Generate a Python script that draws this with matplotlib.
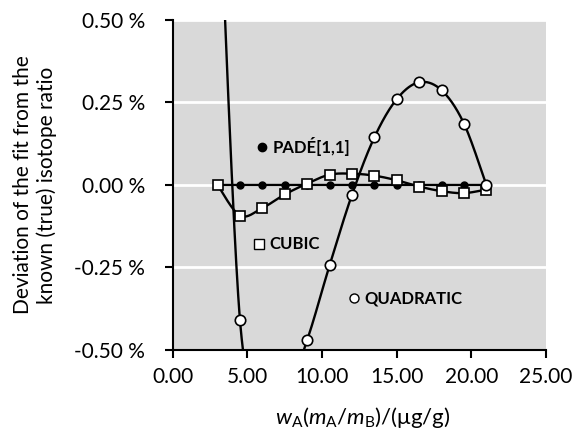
import numpy as np
import matplotlib.pyplot as plt
from matplotlib.ticker import FuncFormatter

plt.rcParams['font.family'] = ['Lato', 'DejaVu Sans']
plt.rcParams['mathtext.fontset'] = 'custom'
plt.rcParams['mathtext.rm'] = 'Lato'
plt.rcParams['mathtext.it'] = 'Lato:italic'

# dados (desvio em %)
x = [3.0, 4.5, 6.0, 7.5, 9.0, 10.5, 12.0, 13.5, 15.0, 16.5, 18.0, 19.5, 21.0]
pade = [0.0, 0.0, 0.0, 0.0, 0.0, 0.0, 0.0, 0.0, 0.0, 0.0, 0.0, 0.0, 0.0]
cubic = [0.0, -0.093, -0.070, -0.029, 0.004, 0.031, 0.034, 0.028, 0.014,
         -0.005, -0.019, -0.025, -0.014]
quadratic = [1.05, -0.41, -0.60, -0.64, -0.47, -0.244, -0.030, 0.144, 0.260,
             0.311, 0.287, 0.186, 0.0]

labels = ['PADÉ[1,1]', 'CUBIC', 'QUADRATIC']
label_x = [6.0, 5.77, 12.13]
label_y = [0.115, -0.179, -0.343]


def smooth(xs, ys, n=40):
    # linha suavizada tipo Excel (bezier com vizinhos)
    p = np.column_stack([xs, ys]).astype(float)
    pts = []
    for i in range(len(p) - 1):
        p0 = p[max(i - 1, 0)]
        p1 = p[i]
        p2 = p[i + 1]
        p3 = p[min(i + 2, len(p) - 1)]
        c1 = p1 + (p2 - p0) / 6
        c2 = p2 - (p3 - p1) / 6
        t = np.linspace(0, 1, n)[:, None]
        seg = ((1 - t) ** 3 * p1 + 3 * t * (1 - t) ** 2 * c1
               + 3 * t ** 2 * (1 - t) * c2 + t ** 3 * p2)
        pts.append(seg if i == 0 else seg[1:])
    pts = np.vstack(pts)
    return pts[:, 0], pts[:, 1]


fig = plt.figure(figsize=(5.76, 4.33), dpi=100)
ax = fig.add_axes([0.300, 0.192, 0.648, 0.762])
ax.set_facecolor('#d9d9d9')

for g in [-0.25, 0.0, 0.25, 0.5]:
    ax.axhline(g, color='white', lw=2, zorder=0)

lw = 1.7
xs, ys = smooth(x, quadratic)
ax.plot(xs, ys, color='black', lw=lw, zorder=2)
xs, ys = smooth(x, cubic)
ax.plot(xs, ys, color='black', lw=lw, zorder=2)
ax.plot(x, pade, color='black', lw=lw, zorder=2)

ax.plot(x, pade, 'o', color='black', ms=5, zorder=3)
ax.plot(x, cubic, 's', mfc='white', mec='black', mew=1.2, ms=7, zorder=4)
ax.plot(x, quadratic, 'o', mfc='white', mec='black', mew=1.2, ms=7.5, zorder=5)

# rotulos das series
ax.plot(label_x[0], label_y[0], 'o', color='black', ms=6, zorder=6)
ax.plot(label_x[1], label_y[1], 's', mfc='white', mec='black', mew=1, ms=7, zorder=6)
ax.plot(label_x[2], label_y[2], 'o', mfc='white', mec='black', mew=1, ms=6.5, zorder=6)
for lx, ly, txt in zip(label_x, label_y, labels):
    ax.text(lx + 0.7, ly, txt, fontsize=12, fontweight='bold', va='center', ha='left')

ax.set_xlim(0, 25)
ax.set_ylim(-0.5, 0.5)
ax.set_xticks([0, 5, 10, 15, 20, 25])
ax.set_yticks([-0.5, -0.25, 0, 0.25, 0.5])
ax.xaxis.set_major_formatter(FuncFormatter(lambda v, p: f'{v:.2f}'))
ax.yaxis.set_major_formatter(FuncFormatter(lambda v, p: f'{v:.2f} %'))
ax.tick_params(labelsize=15, width=1.5, length=6, direction='out', color='black')
ax.tick_params(axis='y', pad=14)
ax.tick_params(axis='x', pad=6)

for s in ['top', 'right']:
    ax.spines[s].set_visible(False)
for s in ['left', 'bottom']:
    ax.spines[s].set_linewidth(1.5)

ax.set_ylabel('Deviation of the fit from the\nknown (true) isotope ratio', fontsize=15)
ax.set_xlabel(r'$w_\mathrm{A}(m_\mathrm{A}/m_\mathrm{B})/(\mathrm{\mu g/g})$', fontsize=16)
ax.yaxis.set_label_coords(-0.31, 0.5)
ax.xaxis.set_label_coords(0.51, -0.168)

fig.savefig('out.png', dpi=100)
